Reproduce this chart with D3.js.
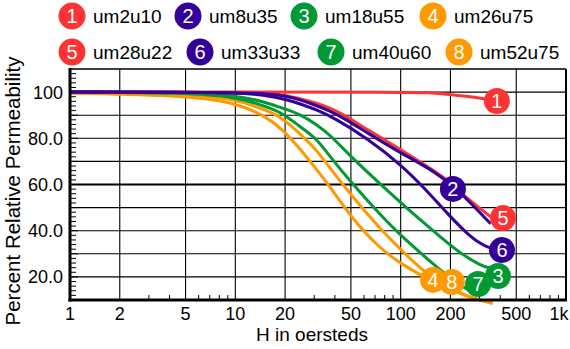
<!DOCTYPE html>
<html><head><meta charset="utf-8">
<script src="https://cdn.jsdelivr.net/npm/d3@7/dist/d3.min.js"></script>
<style>
body{margin:0;background:#fff}
svg{display:block;font-family:"Liberation Sans",Arial,Helvetica,sans-serif}
</style>
</head><body>
<svg id="chart" width="570" height="349"></svg>
<script>
// ---------- data ----------
const seriesNames  = ["um2u10","um8u35","um18u55","um26u75","um28u22","um33u33","um40u60","um52u75"];
const seriesColors = ["#ff3333","#330099","#009933","#ff9900","#ff3333","#330099","#009933","#ff9900"];

const H1 = [1, 10, 100, 150, 200, 250, 300, 340];
const P1 = [100, 100, 100, 99.8, 99, 98.2, 97.4, 96.8];

const H2 = [1, 5, 10, 15, 20, 25, 30, 37, 45, 63, 98, 165, 219, 265, 350];
const P2 = [100, 100, 99.8, 99.4, 98.5, 96.5, 94.5, 92, 88.9, 82.3, 74, 65.2, 57.8, 52, 43];

const H3 = [1, 5, 10, 15.5, 19.4, 24.6, 31, 37.4, 50, 77, 112, 165, 219, 306, 350];
const P3 = [100, 99.8, 98.7, 95.5, 93, 90.5, 86, 81.5, 72, 59.5, 49, 38.7, 31.2, 24.7, 23.8];

const H4 = [1, 5, 9.7, 15.5, 19.4, 24.6, 31, 37.4, 50, 73.4, 102, 136.5, 180, 265, 360];
const P4 = [99.6, 98.5, 95.8, 89.4, 83.6, 75.5, 66.5, 59, 46, 32.7, 25.4, 20.2, 16, 11, 8.8];

const H5 = [1, 5, 10, 15, 20, 25, 30, 37, 45, 63, 98, 142, 190, 242, 292, 350];
const P5 = [100, 100, 99.8, 99.4, 98.7, 97, 95.5, 93.3, 90.3, 83.7, 75.6, 68.2, 62.4, 55, 50.5, 46];

const H6 = [1, 5, 10, 15, 20, 25, 31, 39.5, 63, 102, 142, 190, 265, 320, 350];
const P6 = [100, 100, 99.7, 98.8, 97, 94.8, 92.3, 88.9, 80, 68.2, 57.8, 47.7, 37, 33.5, 32.5];

const H7 = [1, 5, 10, 15.5, 19.4, 24.6, 31, 37.4, 50, 73.4, 102, 150, 198, 265, 300];
const P7 = [100, 99.7, 98, 93.7, 90.8, 85, 80, 72, 61, 47.7, 37.3, 26.9, 19.5, 13.5, 12];

const H8 = [1, 5, 9.7, 15.5, 19.4, 24.6, 31, 37.4, 50, 73.4, 102, 136.5, 180.5, 265, 360];
const P8 = [99.6, 99, 97.3, 92.2, 88.7, 82, 75, 67, 55.5, 41.6, 31.2, 22.6, 16.5, 10.6, 8.5];

// end-label marker positions (data units)
const markerH = [382, 207, 388, 157, 416, 410, 294, 204];
const markerP = [96.1, 58.1, 20.4, 18.7, 45.5, 31.6, 16.9, 17.8];

const xTickValues = [1, 2, 5, 10, 20, 50, 100, 200, 500, 1000];
const xTickLabels = ["1", "2", "5", "10", "20", "50", "100", "200", "500", "1k"];
const yTickValues = [20, 40, 60, 80, 100];
const yTickLabels = ["20.0", "40.0", "60.0", "80.0", "100"];
const yGridValues = [20, 30, 40, 50, 60, 70, 80, 90, 100];

// ---------- layout ----------
const svg = d3.select("#chart");
const L = 70, R = 566, T = 69, B = 300;
const x = d3.scaleLog().domain([1, 1000]).range([L, R]);
const y = d3.scaleLinear().domain([10, 110]).range([B, T]);

const Hs = [H1,H2,H3,H4,H5,H6,H7,H8];
const Ps = [P1,P2,P3,P4,P5,P6,P7,P8];
const series = seriesNames.map((n,i)=>({name:n, color:seriesColors[i], num:i+1,
  pts: Hs[i].map((h,j)=>[h, Ps[i][j]]), mh: markerH[i], mp: markerP[i]}));

// grid
const g = svg.append("g");
g.selectAll(".hg").data(yGridValues).enter().append("line")
  .attr("x1", L).attr("x2", R).attr("y1", d=>y(d)).attr("y2", d=>y(d))
  .attr("stroke", "#000").attr("stroke-width", d=> d===60 ? 2.2 : 1.1);
g.selectAll(".vg").data(xTickValues.slice(1, -1)).enter().append("line")
  .attr("x1", d=>x(d)).attr("x2", d=>x(d)).attr("y1", T).attr("y2", B)
  .attr("stroke", "#000").attr("stroke-width", 1.1);

// minor ticks x
const minorX = [];
[1,10,100].forEach(dec=>[3,4,6,7,8,9].forEach(m=>minorX.push(dec*m)));
g.selectAll(".mx").data(minorX).enter().append("line")
  .attr("x1", d=>x(d)).attr("x2", d=>x(d)).attr("y1", B).attr("y2", B-5)
  .attr("stroke", "#000").attr("stroke-width", 1);
// minor ticks y
const minorY = d3.range(12, 110, 2);
g.selectAll(".my").data(minorY).enter().append("line")
  .attr("x1", L).attr("x2", d=> d%10===0 ? L+8 : L+6).attr("y1", d=>y(d)).attr("y2", d=>y(d))
  .attr("stroke", "#000").attr("stroke-width", 1);

// frame
g.append("line").attr("x1", L).attr("x2", R).attr("y1", T).attr("y2", T).attr("stroke","#000").attr("stroke-width",1.5);
g.append("line").attr("x1", R).attr("x2", R).attr("y1", T).attr("y2", B).attr("stroke","#000").attr("stroke-width",2);

// curves
const line = d3.line().x(d=>x(d[0])).y(d=>y(d[1])).curve(d3.curveBasis);
const drawOrder = [7,3,6,2,4,0,5,1];
svg.append("g").selectAll("path").data(drawOrder.map(i=>series[i])).enter().append("path")
  .attr("d", d=>line(d.pts)).attr("fill","none").attr("stroke", d=>d.color)
  .attr("stroke-width", 3).attr("stroke-linejoin","round");

// axes lines (thick)
svg.append("line").attr("x1", L).attr("x2", L).attr("y1", T-1).attr("y2", B+1.5).attr("stroke","#000").attr("stroke-width",3);
svg.append("line").attr("x1", L-1.5).attr("x2", R+1).attr("y1", B).attr("y2", B).attr("stroke","#000").attr("stroke-width",3);

// markers
const markerOrder = [0,1,4,5,3,7,6,2];
const mk = svg.append("g").selectAll("g").data(markerOrder.map(i=>series[i])).enter().append("g")
  .attr("transform", d=>`translate(${x(d.mh)},${y(d.mp)})`);
mk.append("circle").attr("r", 13).attr("fill", d=>d.color);
mk.append("text").text(d=>d.num).attr("text-anchor","middle").attr("dy","0.36em")
  .attr("fill","#fff").attr("font-size",20);

// tick labels
svg.append("g").selectAll("text").data(xTickValues).enter().append("text")
  .attr("x", d=> Math.min(x(d), 559)).attr("y", 320).attr("text-anchor","middle")
  .attr("font-size",18).text((d,i)=>xTickLabels[i]);
svg.append("g").selectAll("text").data(yTickValues).enter().append("text")
  .attr("x", 63).attr("y", d=>y(d)).attr("dy","0.36em").attr("text-anchor","end")
  .attr("font-size",18).text((d,i)=>yTickLabels[i]);

// axis titles
svg.append("text").attr("x", 312).attr("y", 341).attr("text-anchor","middle")
  .attr("font-size",19).text("H in oersteds");
svg.append("text").attr("transform","translate(20,191) rotate(-90)").attr("text-anchor","middle")
  .attr("font-size",20.5).text("Percent Relative Permeability");

// legend
const legX = [72, 188, 304, 433, 72, 200, 331, 459];
const legY = [16, 16, 16, 16, 52, 52, 52, 52];
const lg = svg.append("g").selectAll("g").data(series).enter().append("g")
  .attr("transform", (d,i)=>`translate(${legX[i]},${legY[i]})`);
lg.append("circle").attr("r", 13.5).attr("fill", d=>d.color);
lg.append("text").text(d=>d.num).attr("text-anchor","middle").attr("dy","0.36em")
  .attr("fill","#fff").attr("font-size",20);
lg.append("text").text(d=>d.name).attr("x", 21).attr("dy","0.36em")
  .attr("font-size",19).attr("fill","#000");
</script>
</body></html>
